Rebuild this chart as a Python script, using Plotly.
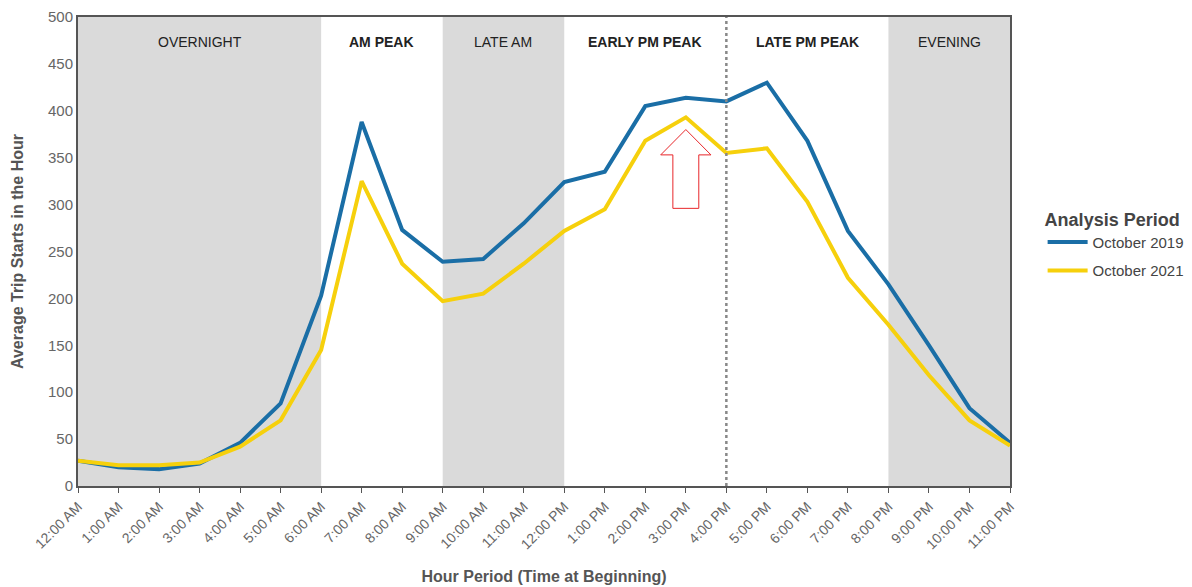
import plotly.graph_objects as go

hours = ["12:00 AM", "1:00 AM", "2:00 AM", "3:00 AM", "4:00 AM", "5:00 AM", "6:00 AM",
         "7:00 AM", "8:00 AM", "9:00 AM", "10:00 AM", "11:00 AM", "12:00 PM",
         "1:00 PM", "2:00 PM", "3:00 PM", "4:00 PM", "5:00 PM", "6:00 PM", "7:00 PM",
         "8:00 PM", "9:00 PM", "10:00 PM", "11:00 PM"]
oct_2019 = [27, 20, 18, 24, 46, 88, 203, 388, 273, 239, 242, 280, 324, 335, 405, 414,
            410, 430, 368, 272, 215, 150, 83, 46]
oct_2021 = [27, 22, 22, 25, 42, 70, 145, 325, 237, 197, 205, 237, 272, 295, 368, 393,
            355, 360, 303, 222, 172, 118, 70, 43]

# periods: (label, start index, end index, shaded, bold)
periods = [("OVERNIGHT", 0, 6, True, False), ("AM PEAK", 6, 9, False, True),
           ("LATE AM", 9, 12, True, False), ("EARLY PM PEAK", 12, 16, False, True),
           ("LATE PM PEAK", 16, 20, False, True), ("EVENING", 20, 23, True, False)]

x = list(range(len(hours)))
FONT = "Liberation Sans, Arial, sans-serif"

fig = go.Figure()
fig.add_trace(go.Scatter(x=x, y=oct_2019, mode="lines", name="October 2019",
                         legendgroup="a", line=dict(color="#1a6ea6", width=4)))
fig.add_trace(go.Scatter(x=x, y=oct_2021, mode="lines", name="October 2021",
                         legendgroup="b", line=dict(color="#f6d00c", width=4)))

shapes = []
annotations = []
for label, s, e, shaded, bold in periods:
    if shaded:
        shapes.append(dict(type="rect", xref="x", yref="paper", x0=s, x1=e, y0=0, y1=1,
                           fillcolor="#dadada", line=dict(width=0), layer="below"))
    annotations.append(dict(x=(s + e) / 2, y=0.947, xref="x", yref="paper",
                            yanchor="middle",
                            text=f"<b>{label}</b>" if bold else label, showarrow=False,
                            font=dict(family=FONT, size=14, color="#222")))

# dotted divider at 4:00 PM
shapes.append(dict(type="line", xref="x", yref="paper", x0=16, x1=16, y0=0, y1=1,
                   line=dict(color="#888", width=2.5, dash="dot")))

# red outline arrow pointing at 3:00 PM of 2021 line
ax = 15
tip = oct_2021[15] - 13
hb = tip - 27
sb = tip - 84
hw, sw = 0.62, 0.32
path = (f"M {ax},{tip} L {ax + hw},{hb} L {ax + sw},{hb} L {ax + sw},{sb} "
        f"L {ax - sw},{sb} L {ax - sw},{hb} L {ax - hw},{hb} Z")
shapes.append(dict(type="path", xref="x", yref="y", path=path,
                   line=dict(color="#e8262a", width=1), fillcolor="rgba(255,255,255,0)"))

fig.update_layout(
    width=1184, height=579,
    margin=dict(l=70, r=182, t=9, b=101, autoexpand=False),
    plot_bgcolor="white", paper_bgcolor="white",
    font=dict(family=FONT, color="#555"),
    shapes=shapes, annotations=annotations,
    showlegend=True,
    legend=dict(x=1.035, y=0.605, xanchor="left", yanchor="top",
                title=dict(text="<b>Analysis Period</b>", side="top",
                           font=dict(size=18, color="#444")),
                font=dict(size=15, color="#444"), itemwidth=40, tracegroupgap=6),
    xaxis=dict(range=[0, 23], tickvals=x, ticktext=hours, tickangle=-45,
               automargin=False, ticklabeloverflow="allow",
               showgrid=False, zeroline=False, showline=True, linecolor="#555",
               linewidth=2, mirror=True, ticks="outside", ticklen=5, tickcolor="#555",
               tickfont=dict(size=14, color="#666"),
               title=dict(text="<b>Hour Period (Time at Beginning)</b>",
                          font=dict(size=16, color="#555"), standoff=20)),
    yaxis=dict(range=[0, 500], dtick=50, showgrid=False, zeroline=False,
               automargin=False, ticklabeloverflow="allow",
               showline=True, linecolor="#555", linewidth=2, mirror=True,
               tickfont=dict(size=15, color="#666"), ticks="",
               title=dict(text="<b>Average Trip Starts in the Hour</b>",
                          font=dict(size=16, color="#555"), standoff=20)),
)

fig.write_html("out.html")
